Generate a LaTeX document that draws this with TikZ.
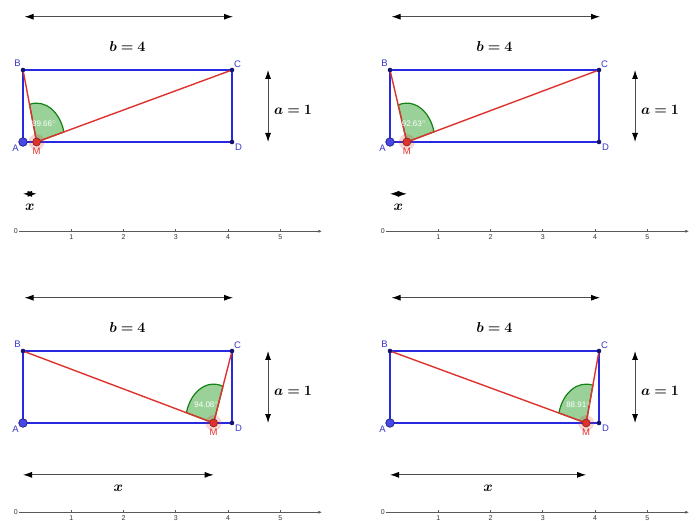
\documentclass[tikz,border=0pt]{standalone}
\usepackage{bm}
\usepackage{fontspec}
\newfontfamily\ggbfont{Liberation Sans}
\usetikzlibrary{arrows.meta,positioning}
\definecolor{ggbBlue}{RGB}{40,40,225}
\definecolor{ggbLabel}{RGB}{55,55,205}
\definecolor{ggbRed}{RGB}{222,50,45}
\definecolor{ggbGreen}{RGB}{20,130,20}
\definecolor{ggbNavy}{RGB}{20,20,110}

\tikzset{
  side/.style={ggbBlue,line width=1.8pt,line join=round},
  seg/.style={ggbRed,line width=1.4pt},
  sector/.style={draw=ggbGreen,fill=green!55!black,fill opacity=0.4,line width=1.2pt},
  ptlabel/.style={font=\ggbfont\fontsize{9.5}{11}\selectfont,text=ggbLabel,inner sep=1pt},
  anglabel/.style={font=\ggbfont\fontsize{8}{9}\selectfont,text=white,inner sep=0pt},
  dimarrow/.style={black!70,{Latex[length=9pt,width=6pt,black]}-{Latex[length=9pt,width=6pt,black]},line width=0.9pt},
  dimlabel/.style={font=\fontsize{14}{16}\selectfont},
  axis/.style={black!65,line width=0.6pt,-{Latex[length=3.5pt,width=3pt]}},
  ticklabel/.style={font=\ggbfont\fontsize{7}{8}\selectfont,text=black!80,inner sep=0pt}
}

\begin{document}
\begin{tikzpicture}[x=1pt,y=-1pt]
\useasboundingbox (0,0) rectangle (699,521);
\foreach \ox/\oy/\m/\ang in {0/0/0.261/89.66,367/0/0.322/92.63,0/281/3.648/94.08,367/281/3.754/88.91}{
  \begin{scope}[shift={(23+\ox,142+\oy)},x=52.25pt,y=72pt]
    \pgfmathsetmacro\sa{atan2(1,4-\m)}
    \pgfmathsetmacro\ea{atan2(1,-\m)}
    \pgfmathsetmacro\md{(\sa+\ea)/2}
    \coordinate (A) at (0,0);
    \coordinate (B) at (0,1);
    \coordinate (C) at (4,1);
    \coordinate (D) at (4,0);
    \coordinate (M) at (\m,0);
    % rectangle and segments
    \draw[side] (A) -- (B) -- (C) -- (D) -- cycle;
    \draw[sector] (M) -- ++(\sa:0.54) arc[start angle=\sa,end angle=\ea,radius=0.54] -- cycle;
    \draw[seg] (B) -- (M) -- (C);
    \path (M) ++(\md:0.29) node[anglabel] (ang) {\ang$^\circ$};
    % points
    \fill[ggbRed,opacity=0.2] (M) circle (8pt);
    \filldraw[fill=ggbRed,draw=ggbRed!60!black,line width=0.6pt] (M) circle (4pt);
    \filldraw[fill=ggbBlue!85,draw=ggbNavy,line width=0.6pt] (A) circle (4.3pt);
    \foreach \p in {B,C,D}
      \fill[ggbNavy] (\p) circle (2.3pt);
    \node[ptlabel,below left=2pt and 3pt of A] (lA) {A};
    \node[ptlabel,above left=2pt and 1pt of B] (lB) {B};
    \node[ptlabel,above right=1pt and 1pt of C] (lC) {C};
    \node[ptlabel,below right=1pt and 2pt of D] (lD) {D};
    \node[ptlabel,text=ggbRed,below=5pt of M] (lM) {M};
    % dimensions
    \coordinate (bL) at (0.03,1.74);
    \coordinate (bR) at (4.02,1.74);
    \draw[dimarrow] (bL) -- (bR);
    \node[dimlabel] (lb) at (2,1.32) {$\bm{b=4}$};
    \coordinate (aT) at (4.69,1);
    \coordinate (aB) at (4.69,0);
    \draw[dimarrow] (aT) -- (aB);
    \node[dimlabel,right] (la) at (4.74,0.45) {$\bm{a=1}$};
    \coordinate (xL) at (0,-0.72);
    \coordinate (xR) at (\m,-0.72);
    \draw[dimarrow] (xL) -- (xR);
    \node[dimlabel] (lx) at (\m/2,-0.91) {$\bm{x}$};
    % number line
    \coordinate (O) at (-0.077,-1.24);
    \coordinate (E) at (5.72,-1.24);
    \draw[axis] (O) -- (E);
    \node[ticklabel,left=1pt of O] (t0) {0};
    \foreach \k in {1,...,5}{
      \draw[black!65,line width=0.5pt] (\k-0.077,-1.24) -- ++(0,0.03);
      \node[ticklabel,below=3pt] (t\k) at (\k-0.077,-1.24) {\k};
    }
  \end{scope}
}
\end{tikzpicture}
\end{document}
